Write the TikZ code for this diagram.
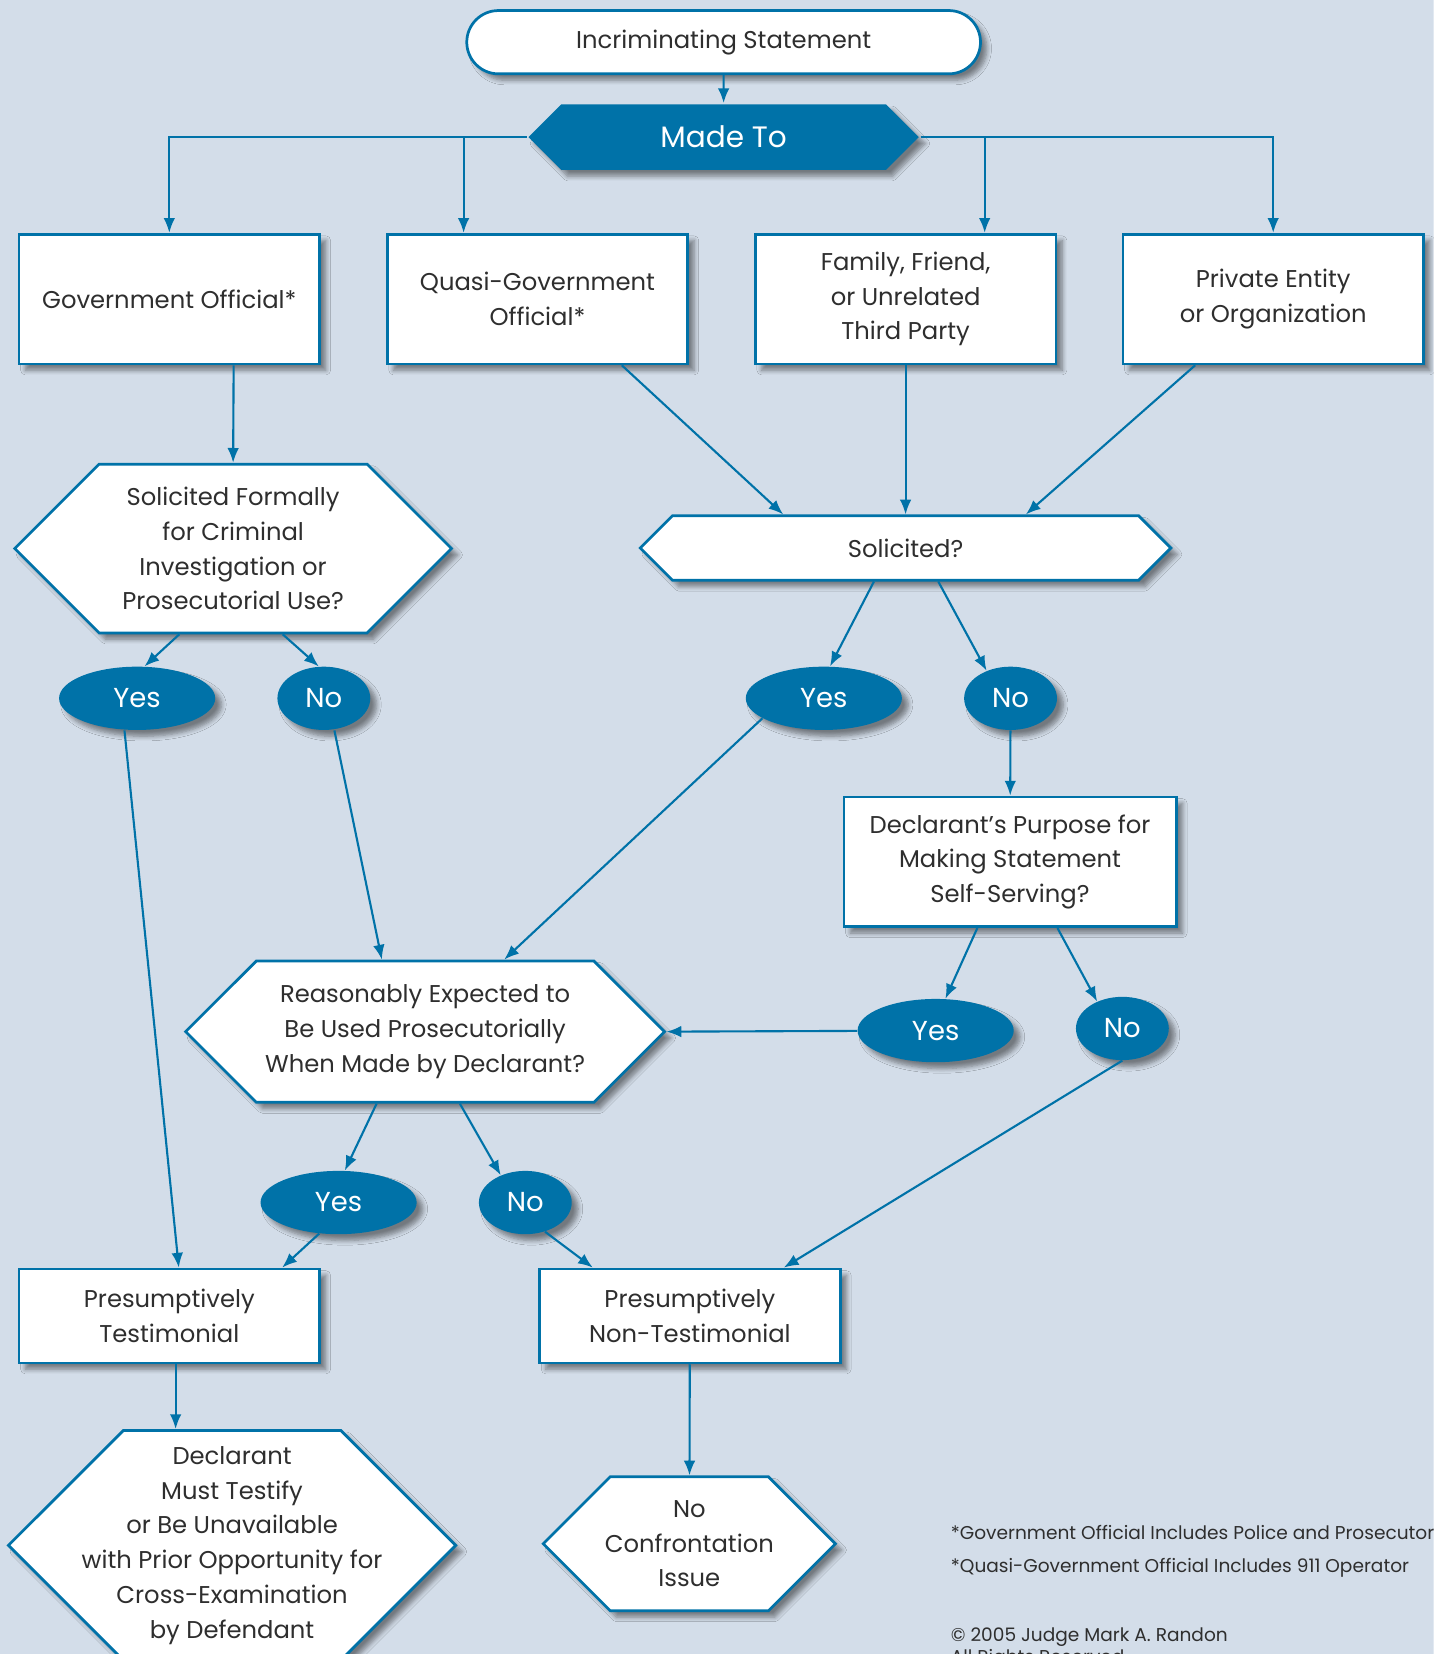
\documentclass[tikz,border=0pt]{standalone}
\usepackage{fontspec}
\setmainfont{Poppins}
\usetikzlibrary{shapes.symbols,shapes.geometric,arrows.meta,shadows.blur}
\definecolor{flowbg}{HTML}{D3DDE9}
\definecolor{flowblue}{HTML}{0072A8}
\definecolor{flowtext}{HTML}{2E2E2E}

\begin{document}
\begin{tikzpicture}[x=0.5pt,y=-0.5pt,
  font=\fontsize{11.5}{16.5}\selectfont, text=flowtext,
  shade/.style={blur shadow={shadow xshift=3pt,shadow yshift=-3pt,shadow opacity=45,shadow blur steps=6}},
  box/.style={draw=flowblue,line width=1.3pt,fill=white,align=center,minimum width=142.5pt,minimum height=61.5pt,inner sep=2pt,shade},
  hexa/.style={signal,signal to=west and east,signal pointer angle=90,draw=flowblue,line width=1.3pt,fill=white,align=center,inner sep=1pt,shade},
  oval/.style={ellipse,fill=flowblue,text=white,minimum height=30pt,inner sep=0pt,font=\fontsize{13}{15}\selectfont,shade},
  yes/.style={oval,minimum width=74pt},
  no/.style={oval,minimum width=44pt},
  arr/.style={draw=flowblue,line width=1pt,-{Latex[length=7pt,width=5.5pt]}},
  note/.style={anchor=base west,font=\fontsize{8.8}{10}\selectfont,inner sep=0pt}
]

  \useasboundingbox (0,0) rectangle (1359,1568);
  \clip (0,0) rectangle (1359,1568);
  \fill[flowbg] (0,0) rectangle (1359,1568);

  %% top
  \node[box,rounded corners=15pt,minimum width=243.5pt,minimum height=30pt] (inc) at (686,40) {Incriminating Statement};
  \node[hexa,fill=flowblue,draw=none,text=white,font=\fontsize{14}{16}\selectfont,minimum width=185pt,minimum height=31pt] (made) at (686,130) {Made To};

  %% who heard it
  \node[box] (gov) at (160.5,283.5) {Government Official*};
  \node[box] (quasi) at (509.5,283.5) {Quasi-Government\\Official*};
  \node[box] (family) at (858.5,283.5) {Family, Friend,\\or Unrelated\\Third Party};
  \node[box] (priv) at (1207,283.5) {Private Entity\\or Organization};

  %% questions
  \node[hexa,minimum width=207pt,minimum height=80pt] (solf) at (221,520) {Solicited Formally\\for Criminal\\Investigation or\\Prosecutorial Use?};
  \node[hexa,minimum width=251.5pt,minimum height=30.5pt] (sol) at (858.5,519.5) {Solicited?};

  \node[yes] (fyes) at (130,662) {Yes};
  \node[no] (fno) at (307,662) {No};
  \node[yes] (syes) at (781,662) {Yes};
  \node[no] (sno) at (958,662) {No};

  \node[box,minimum width=157.5pt] (decl) at (957.5,817) {Declarant’s Purpose for\\Making Statement\\Self-Serving?};
  \node[yes] (dyes) at (887,977) {Yes};
  \node[no] (dno) at (1064,975) {No};

  \node[hexa,minimum width=227pt,minimum height=67pt] (reas) at (403,978) {Reasonably Expected to\\Be Used Prosecutorially\\When Made by Declarant?};
  \node[yes] (byes) at (321,1140) {Yes};
  \node[no] (bno) at (498,1140) {No};

  %% outcomes
  \node[box,minimum height=44.5pt] (ptest) at (160.5,1247.5) {Presumptively\\Testimonial};
  \node[box,minimum height=44.5pt] (nont) at (654,1247.5) {Presumptively\\Non-Testimonial};
  \node[hexa,inner xsep=-22pt,minimum width=212pt,minimum height=109pt] (must) at (220,1465) {Declarant\\Must Testify\\or Be Unavailable\\with Prior Opportunity for\\Cross-Examination\\by Defendant};
  \node[hexa,inner xsep=-6pt,minimum width=138.5pt,minimum height=63.5pt] (noconf) at (653.5,1463.5) {No\\Confrontation\\Issue};

  %% footnotes
  \node[note] (fnone) at (901,1459) {*Government Official Includes Police and Prosecutors};
  \node[note] (fntwo) at (901,1491) {*Quasi-Government Official Includes 911 Operator};
  \node[note] (copy) at (901,1556) {© 2005 Judge Mark A. Randon};
  \node[note] (rights) at (901,1577) {All Rights Reserved};

  %% arrows
  \draw[arr] (inc) -- (made);
  \draw[arr] (made.west) -| (gov.north);
  \draw[arr] (made.west) -| ([xshift=-35pt]quasi.north);
  \draw[arr] (made.east) -| ([xshift=37.5pt]family.north);
  \draw[arr] (made.east) -| (priv.north);

  \draw[arr] ([xshift=30.5pt]gov.south) -- (solf.north);
  \draw[arr] ([xshift=40pt]quasi.south) -- ([xshift=-58pt]sol.north);
  \draw[arr] (family.south) -- (sol.north);
  \draw[arr] ([xshift=-37pt]priv.south) -- ([xshift=57pt]sol.north);

  \draw[arr] ([xshift=-25.5pt]solf.south) -- (fyes.77);
  \draw[arr] ([xshift=23.5pt]solf.south) -- (fno.99);
  \draw[arr] ([xshift=-15pt]sol.south) -- (syes.79);
  \draw[arr] ([xshift=15.5pt]sol.south) -- (sno.131);
  \draw[arr] (sno) -- (decl);
  \draw[arr] ([xshift=-15.5pt]decl.south) -- (dyes.73);
  \draw[arr] ([xshift=22.5pt]decl.south) -- (dno.133);

  \draw[arr] (dyes) -- (reas.east);
  \draw[arr] (syes.198) -- ([xshift=37.5pt]reas.north);
  \draw[arr] ([xshift=5pt]fno.south) -- ([xshift=-20.5pt]reas.north);
  \draw[arr] ([xshift=-6pt]fyes.south) -- ([xshift=4.5pt]ptest.north);

  \draw[arr] ([xshift=-23pt]reas.south) -- (byes.79);
  \draw[arr] ([xshift=16.5pt]reas.south) -- (bno.132);
  \draw[arr] (byes.238) -- ([xshift=53.5pt]ptest.north);
  \draw[arr] (bno.304) -- ([xshift=-46pt]nont.north);
  \draw[arr] (dno.south) -- ([xshift=44.5pt]nont.north);

  \draw[arr] ([xshift=3pt]ptest.south) -- ([xshift=3pt]ptest.south |- must.north);
  \draw[arr] (nont) -- (noconf);

\end{tikzpicture}
\end{document}
